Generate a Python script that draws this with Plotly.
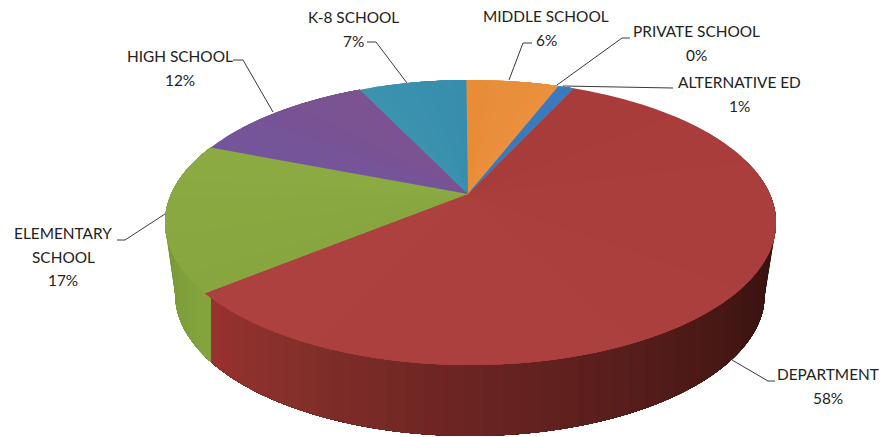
import numpy as np
import plotly.graph_objects as go

# School types and their share of the total, clockwise from the department wedge
categories = ["DEPARTMENT", "ELEMENTARY SCHOOL", "HIGH SCHOOL", "K-8 SCHOOL",
              "MIDDLE SCHOOL", "PRIVATE SCHOOL", "ALTERNATIVE ED"]
shares = [58, 17, 12, 7, 6, 0, 1]
label_lines = [["DEPARTMENT"], ["ELEMENTARY", "SCHOOL"], ["HIGH SCHOOL"], ["K-8 SCHOOL"],
               ["MIDDLE SCHOOL"], ["PRIVATE SCHOOL"], ["ALTERNATIVE ED"]]

top_colors = ["#a83c3b", "#88a63f", "#74549a", "#3c93b0", "#e88c36", "#3a7bbd", "#3a7bbd"]
top_colors_far = ["#ad4240", "#8dab43", "#7d528f", "#368cab", "#ea9140", "#3a7bbd", "#3a7bbd"]
side_stops = {
    "DEPARTMENT": [(24, "#2e100c"), (90, "#2e100c"), (125, "#3f1512"), (157, "#591e1c"),
                   (180, "#6a2422"), (210, "#85302a"), (232, "#9c3232")],
    "ELEMENTARY SCHOOL": [(231, "#5f8a30"), (262, "#769a38"), (292, "#85a43d")],
}

# Label placement: text centre x, first line y, leader polyline
label_x = [828, 63, 180, 353, 546, 696, 739]
label_y = [374, 233, 56, 17, 16, 31, 82]
line_gap = 23.5
leaders_x = [[732, 768, 775], [165, 125, 117], [273, 243, 233], [407, 376, 367],
             [509, 523, 532], [557, 622, 630], [563, 673]]
leaders_y = [[360, 381, 381], [214, 240, 240], [112, 60, 60], [83, 42, 42],
             [80, 43, 43], [85, 38, 38], [86, 88]]

# Projection of the disc: a tilted circle seen in perspective
RIM_X, RIM_Y = 470.5, 194.0
SCALE_X, SCALE_Y, PERSP = 299.3, 136.8, 0.2
APEX_X, APEX_Y = 468.0, 194.0
FLOOR_X, FLOOR_Y = 470.0, 294.0
FLOOR_A, FLOOR_B = 295.0, 142.0
START_DEG = 24.0


def rim(theta_deg):
    t = np.radians(theta_deg)
    u, v = np.sin(t), -np.cos(t)
    d = 1 - PERSP * v
    return RIM_X + SCALE_X * u / d, RIM_Y + SCALE_Y * v / d


def floor_point(theta_deg):
    # Lower outline of the wall, straight below the rim point where it can be
    x, _ = rim(theta_deg)
    dx = np.clip(x - FLOOR_X, -FLOOR_A, FLOOR_A)
    return FLOOR_X + dx, FLOOR_Y + FLOOR_B * np.sqrt(1 - (dx / FLOOR_A) ** 2)


def mix(c1, c2, f):
    a = np.array([int(c1[i:i + 2], 16) for i in (1, 3, 5)], float)
    b = np.array([int(c2[i:i + 2], 16) for i in (1, 3, 5)], float)
    r = (a + (b - a) * f).round().astype(int)
    return "#%02x%02x%02x" % tuple(r)


def ramp(stops, th):
    for (t0, c0), (t1, c1) in zip(stops, stops[1:]):
        if t0 <= th <= t1:
            return mix(c0, c1, (th - t0) / (t1 - t0))
    return stops[-1][1] if th > stops[-1][0] else stops[0][1]


def polygon(pts, color):
    return go.Scatter(x=[p[0] for p in pts], y=[p[1] for p in pts], mode="none",
                      fill="toself", fillcolor=color, hoverinfo="skip", showlegend=False)


fig = go.Figure()

# Angular extent of each slice
sweeps = np.array(shares, float) / sum(shares) * 360.0
starts = START_DEG + np.concatenate([[0], np.cumsum(sweeps)[:-1]])
ends = starts + sweeps

# Outer wall: every band runs on to the end of its slice and the next one paints over it
for i, name in enumerate(categories):
    if name not in side_stops:
        continue
    lo, hi = max(starts[i], 76.0), min(ends[i], 294.0)
    for a in np.arange(lo, hi, 3.0):
        arc = np.linspace(a, hi, max(int(hi - a), 2))
        pts = [rim(t) for t in arc] + [floor_point(t) for t in arc[::-1]]
        fig.add_trace(polygon(pts, ramp(side_stops[name], a + 1.5)))

# Disc surface, fanned out from the apex in the same overlapping way
for i, name in enumerate(categories):
    if sweeps[i] == 0:
        continue
    for a in np.linspace(starts[i], ends[i], 9)[:-1]:
        arc = np.linspace(a, ends[i], max(int(ends[i] - a), 2) + 1)
        f = (a - starts[i]) / sweeps[i]
        pts = [(APEX_X, APEX_Y)] + [rim(t) for t in arc]
        fig.add_trace(polygon(pts, mix(top_colors[i], top_colors_far[i], f)))

# Leader lines
for xs, ys in zip(leaders_x, leaders_y):
    fig.add_trace(go.Scatter(x=xs, y=ys, mode="lines", hoverinfo="skip", showlegend=False,
                             line=dict(color="#3a3a3a", width=1)))

# Category name and percentage, one annotation per text line
annotations = []
for lines, share, x, y in zip(label_lines, shares, label_x, label_y):
    for k, text in enumerate(lines + [f"{share}%"]):
        annotations.append(dict(x=x, y=y + k * line_gap, text=text, showarrow=False,
                                xanchor="center", yanchor="middle", xref="x", yref="y",
                                font=dict(family="Lato", size=15.4, color="#222222")))

fig.update_layout(
    width=881, height=437, margin=dict(l=0, r=0, t=0, b=0),
    paper_bgcolor="white", plot_bgcolor="white", showlegend=False,
    xaxis=dict(range=[0, 881], visible=False, fixedrange=True),
    yaxis=dict(range=[437, 0], visible=False, fixedrange=True),
    annotations=annotations,
)
fig.write_html("out.html", config={"displayModeBar": False})
